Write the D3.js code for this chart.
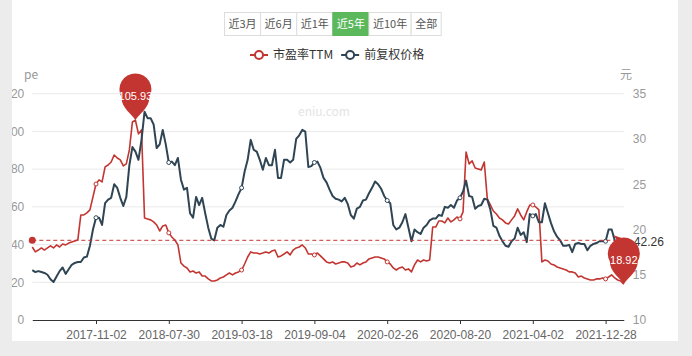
<!DOCTYPE html>
<html><head><meta charset="utf-8">
<script src="https://cdn.jsdelivr.net/npm/d3@7"></script>
<style>
html,body{margin:0;padding:0;background:#fff;}
svg{display:block;font-family:"Noto Sans CJK SC","Noto Sans",sans-serif;}
</style></head>
<body><svg id="c" width="692" height="356"></svg>
<script>
const rangeButtons = ['近3月','近6月','近1年','近5年','近10年','全部'];
const activeButton = '近5年';
const seriesNames = ['市盈率TTM','前复权价格'];
const tickLabels = ['2017-11-02','2018-07-30','2019-03-18','2019-09-04','2020-02-26','2020-08-20','2021-04-02','2021-12-28'];
const tickIndex = [21,45,69,93,117,141,165,189];
const peTicks = [0,20,40,60,80,100,120];
const priceTicks = [10,15,20,25,30,35];
const peAverage = 42.26;
const peValues = [
38.7,36.1,37.1,38.2,37.1,38.2,39.3,38.2,39.8,38.7,40.3,39.8,40.8,41.4,41.9,42.4,55.7,55.7,56.8,58.4,
65.3,72.1,74.3,73.2,81.2,82.2,83.8,87.5,85.9,84.9,81.7,82.8,90.2,105.0,105.93,98.7,100.8,54.1,53.6,53.1,
52.0,50.4,47.2,49.9,50.4,46.2,44.0,42.4,39.8,30.2,28.6,27.6,25.5,26.0,24.9,25.5,23.3,23.3,21.8,20.7,
20.7,21.2,22.3,22.8,23.9,24.9,23.9,24.9,25.5,26.5,29.7,33.4,36.1,35.5,35.5,35.0,35.5,36.1,35.5,36.6,
37.1,33.4,34.0,35.0,36.1,34.5,37.1,38.2,38.7,39.8,38.2,35.0,35.0,34.5,35.5,34.0,32.4,30.8,30.2,30.8,
29.7,30.2,30.8,30.8,30.2,28.1,28.6,30.2,29.2,30.2,30.8,32.4,32.9,33.4,33.4,32.9,32.4,30.8,29.7,27.6,
26.5,27.6,28.1,26.5,27.1,25.5,29.2,31.8,30.8,31.8,31.3,31.8,49.3,49.3,52.5,52.5,51.5,54.1,52.0,53.1,
54.6,53.6,57.3,89.1,82.8,84.4,80.6,80.1,79.6,83.8,64.2,61.0,57.8,56.2,54.1,53.1,51.5,50.9,53.1,55.2,
58.9,55.7,53.1,57.3,61.0,61.0,59.9,58.4,30.8,31.8,31.3,29.7,29.2,28.1,27.6,27.1,26.5,25.5,25.5,24.9,
22.8,23.3,22.3,21.8,21.2,21.2,21.8,21.8,22.3,21.8,22.8,23.9,22.3,21.2,20.7,18.92];
const priceValues = [
15.5,15.3,15.4,15.3,15.2,15.0,14.5,14.2,14.8,15.4,15.8,15.1,15.6,16.1,16.3,16.4,16.4,16.9,17.0,18.2,
20.0,21.3,21.3,20.5,22.9,23.3,23.5,25.0,24.6,23.5,22.6,23.6,27.1,29.1,28.6,27.7,29.9,33.0,32.3,32.3,
31.6,29.0,29.4,31.0,29.4,27.4,27.5,27.1,27.9,25.5,24.4,24.6,21.8,21.3,23.6,22.7,23.5,21.8,20.2,19.0,
18.8,20.2,20.5,20.3,21.6,22.1,22.4,23.1,23.9,24.6,26.4,27.7,29.9,28.8,28.6,27.7,26.6,27.9,27.1,27.1,
28.8,25.7,25.7,27.7,27.7,27.4,27.7,30.0,30.4,31.0,30.8,26.9,27.0,27.4,27.5,26.8,25.7,25.2,24.4,23.7,
23.4,23.3,23.1,23.5,22.8,21.6,21.2,22.3,22.5,23.2,23.3,24.0,24.6,25.3,25.0,24.5,23.7,23.2,22.9,20.5,
20.0,20.2,20.8,21.7,20.2,18.7,20.0,19.7,19.5,20.2,20.5,21.0,21.2,21.2,21.6,21.5,22.5,22.4,22.7,22.4,
23.2,23.5,24.2,25.4,23.7,23.6,22.3,22.6,22.7,23.4,23.3,22.2,20.4,20.2,19.3,18.7,18.2,18.1,18.7,19.0,
20.2,19.4,19.7,18.6,21.7,21.5,21.7,20.8,20.8,22.9,21.8,20.7,19.8,19.2,18.8,18.2,18.2,18.3,17.5,18.4,
18.5,18.4,18.4,17.7,18.2,18.4,18.5,18.7,18.7,18.7,20.0,20.0,18.8,17.9,17.9,17.6];

const RED = '#c23531', DARK = '#2f4554';
const NUMFONT = '"Liberation Sans",Arial,sans-serif';
const svg = d3.select('#c');
const W = 692, H = 356;
const m = {left: 32.3, right: 623.8, top: 93.7, bottom: 320};

svg.append('rect').attr('width', W).attr('height', H).attr('fill', '#fff');

const x = d3.scaleLinear().domain([0, peValues.length - 1]).range([m.left, m.right]);
const yL = d3.scaleLinear().domain([0, 120]).range([m.bottom, m.top]);
const yR = d3.scaleLinear().domain([10, 35]).range([m.bottom, m.top]);

// grid lines
svg.append('g').selectAll('line').data(peTicks.filter(d => d > 0)).join('line')
  .attr('x1', m.left).attr('x2', m.right).attr('y1', d => yL(d)).attr('y2', d => yL(d))
  .attr('stroke', '#e9e9e9').attr('stroke-width', 1);

// watermark
svg.append('text').attr('x', 324).attr('y', 116).attr('text-anchor', 'middle')
  .attr('font-size', 12).attr('fill', '#e4e4e4').text('eniu.com');

// axes labels
const gL = svg.append('g').attr('transform', `translate(${m.left},0)`)
  .call(d3.axisLeft(yL).tickValues(peTicks).tickSize(0).tickPadding(8));
gL.select('.domain').remove();
gL.selectAll('text').attr('font-size', 12).attr('fill', '#999').attr('font-family', NUMFONT);

const gR = svg.append('g').attr('transform', `translate(${m.right},0)`)
  .call(d3.axisRight(yR).tickValues(priceTicks).tickSize(0).tickPadding(9));
gR.select('.domain').remove();
gR.selectAll('text').attr('font-size', 12).attr('fill', '#999').attr('font-family', NUMFONT);

svg.append('text').attr('x', 31).attr('y', 79).attr('text-anchor', 'middle').attr('font-size', 12).attr('fill', '#999').text('pe');
svg.append('text').attr('x', 626).attr('y', 79).attr('text-anchor', 'middle').attr('font-size', 12).attr('fill', '#999').text('元');

// x axis
const gX = svg.append('g').attr('transform', `translate(0,${m.bottom})`)
  .call(d3.axisBottom(x).tickValues(tickIndex).tickFormat((d, i) => tickLabels[i]).tickSize(4).tickPadding(6).tickSizeOuter(0));
gX.select('.domain').attr('stroke', '#333');
gX.selectAll('.tick line').attr('stroke', '#333');
gX.selectAll('text').attr('font-size', 12).attr('fill', '#666').attr('font-family', NUMFONT);

// lines
const linePE = d3.line().x((d, i) => x(i)).y(d => yL(d));
const linePrice = d3.line().x((d, i) => x(i)).y(d => yR(d));
svg.append('path').datum(peValues).attr('d', linePE).attr('fill', 'none').attr('stroke', RED).attr('stroke-width', 1.6).attr('stroke-linejoin', 'round');
svg.append('path').datum(priceValues).attr('d', linePrice).attr('fill', 'none').attr('stroke', DARK).attr('stroke-width', 2).attr('stroke-linejoin', 'round');

// symbols at label positions
svg.append('g').selectAll('circle').data(tickIndex).join('circle')
  .attr('cx', d => x(d)).attr('cy', d => yL(peValues[d])).attr('r', 2).attr('fill', '#fff').attr('stroke', RED).attr('stroke-width', 1);
svg.append('g').selectAll('circle').data(tickIndex).join('circle')
  .attr('cx', d => x(d)).attr('cy', d => yR(priceValues[d])).attr('r', 2).attr('fill', '#fff').attr('stroke', DARK).attr('stroke-width', 1);

// average mark line
const ya = yL(peAverage);
svg.append('line').attr('x1', m.left).attr('x2', m.right - 2).attr('y1', ya).attr('y2', ya)
  .attr('stroke', RED).attr('stroke-width', 1).attr('stroke-dasharray', '4,3');
svg.append('circle').attr('cx', m.left).attr('cy', ya).attr('r', 3.5).attr('fill', RED);
svg.append('path').attr('d', `M${m.right - 10},${ya - 5} L${m.right + 4},${ya} L${m.right - 10},${ya + 5} L${m.right - 7},${ya} Z`).attr('fill', RED);
svg.append('text').attr('x', m.right + 10).attr('y', ya + 6).attr('font-size', 12).attr('font-family', NUMFONT).attr('fill', '#333').text(peAverage.toFixed(2));

// mark points (pins)
const maxI = d3.maxIndex(peValues), minI = d3.minIndex(peValues);
[maxI, minI].forEach(i => {
  const g = svg.append('g').attr('transform', `translate(${x(i)},${yL(peValues[i])})`);
  g.append('path').attr('d', 'M0,0 C-3,-6 -14,-12 -14,-23 A16,16 0 1 1 14,-23 C14,-12 3,-6 0,0 Z').attr('fill', RED);
  g.append('text').attr('x', 0).attr('y', -20).attr('text-anchor', 'middle').attr('font-size', 11).attr('font-family', NUMFONT).attr('fill', '#fff').text(peValues[i]);
});

// range buttons
const bg = svg.append('g');
let bx = 224;
rangeButtons.forEach(label => {
  const t = bg.append('text').attr('y', 28).attr('font-size', 11).text(label);
  const w = t.node().getComputedTextLength() + 8;
  const active = label === activeButton;
  bg.insert('rect', 'text').attr('x', bx + 0.5).attr('y', 12.5).attr('width', w).attr('height', 23)
    .attr('fill', active ? '#5cb85c' : '#fff').attr('stroke', active ? '#5cb85c' : '#ddd');
  t.attr('x', bx + 0.5 + w / 2).attr('text-anchor', 'middle').attr('fill', active ? '#fff' : '#555');
  bx += w;
});

// legend
const legend = svg.append('g');
let lx = 250;
[[seriesNames[0], RED], [seriesNames[1], DARK]].forEach(([name, col]) => {
  legend.append('line').attr('x1', lx).attr('x2', lx + 18).attr('y1', 55).attr('y2', 55).attr('stroke', col).attr('stroke-width', 2);
  legend.append('circle').attr('cx', lx + 9).attr('cy', 55).attr('r', 4).attr('fill', '#fff').attr('stroke', col).attr('stroke-width', 2);
  const t = legend.append('text').attr('x', lx + 23).attr('y', 59).attr('font-size', 12).attr('fill', '#333').text(name);
  lx += 23 + t.node().getComputedTextLength() + 8;
});

// screenshot frame
const frame = svg.append('g');
frame.append('rect').attr('x', 0).attr('y', 0).attr('width', 12).attr('height', H).attr('fill', '#ececec');
frame.append('rect').attr('x', 678).attr('y', 0).attr('width', 14).attr('height', H).attr('fill', '#ececec');
frame.append('rect').attr('x', 0).attr('y', 341).attr('width', W).attr('height', 15).attr('fill', '#ececec');
</script></body></html>
